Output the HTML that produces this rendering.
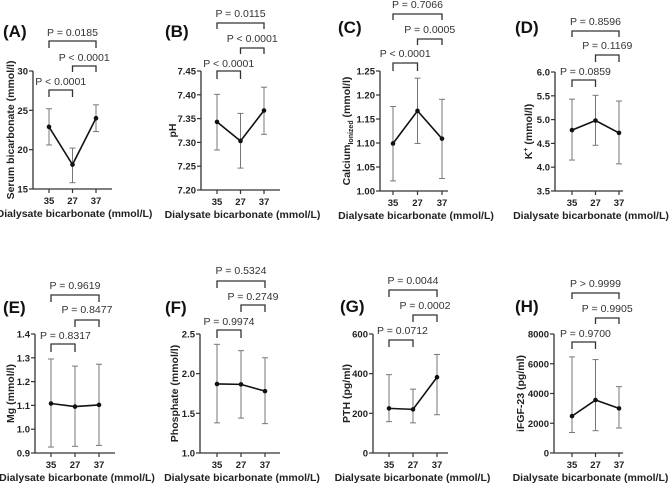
<!DOCTYPE html>
<html><head><meta charset="utf-8">
<style>
body{margin:0;background:#fff;}
svg{display:block;font-family:"Liberation Sans",Arial,sans-serif;}
.tk{font-size:9.5px;font-weight:bold;fill:#222;}
.pl{font-size:10.5px;fill:#333;}
.ttl{font-size:17px;font-weight:bold;fill:#111;}
.xl{font-size:10.5px;font-weight:bold;fill:#222;}
.yl{font-size:10.5px;font-weight:bold;fill:#222;}
</style></head>
<body>
<svg id="fig" width="669" height="487" viewBox="0 0 669 487" xmlns="http://www.w3.org/2000/svg"></svg>
<script>
const categories = ["35","27","37"];
// Panel A
const aMean = [22.9, 18.1, 24.0];
const aLow = [20.6, 15.8, 22.3];
const aHigh = [25.2, 20.2, 25.7];
const aTicks = [15, 20, 25, 30];
const aP = ["P = 0.0185","P < 0.0001","P < 0.0001"];
// Panel B
const bMean = [7.343, 7.303, 7.367];
const bLow = [7.284, 7.246, 7.317];
const bHigh = [7.401, 7.361, 7.416];
const bTicks = [7.20, 7.25, 7.30, 7.35, 7.40, 7.45];
const bP = ["P = 0.0115","P < 0.0001","P < 0.0001"];
// Panel C
const cMean = [1.099, 1.167, 1.109];
const cLow = [1.021, 1.099, 1.026];
const cHigh = [1.176, 1.235, 1.191];
const cTicks = [1.00, 1.05, 1.10, 1.15, 1.20, 1.25];
const cP = ["P = 0.7066","P = 0.0005","P < 0.0001"];
// Panel D
const dMean = [4.78, 4.98, 4.72];
const dLow = [4.15, 4.46, 4.07];
const dHigh = [5.43, 5.51, 5.39];
const dTicks = [3.5, 4.0, 4.5, 5.0, 5.5, 6.0];
const dP = ["P = 0.8596","P = 0.1169","P = 0.0859"];
// Panel E
const eMean = [1.108, 1.095, 1.102];
const eLow = [0.925, 0.928, 0.932];
const eHigh = [1.295, 1.265, 1.273];
const eTicks = [0.9, 1.0, 1.1, 1.2, 1.3, 1.4];
const eP = ["P = 0.9619","P = 0.8477","P = 0.8317"];
// Panel F
const fMean = [1.87, 1.865, 1.78];
const fLow = [1.38, 1.44, 1.37];
const fHigh = [2.37, 2.29, 2.20];
const fTicks = [1.0, 1.5, 2.0, 2.5];
const fP = ["P = 0.5324","P = 0.2749","P = 0.9974"];
// Panel G
const gMean = [225, 220, 382];
const gLow = [158, 152, 193];
const gHigh = [395, 322, 497];
const gTicks = [0, 200, 400, 600];
const gP = ["P = 0.0044","P = 0.0002","P = 0.0712"];
// Panel H
const hMean = [2480, 3560, 3000];
const hLow = [1380, 1500, 1680];
const hHigh = [6460, 6280, 4460];
const hTicks = [0, 2000, 4000, 6000, 8000];
const hP = ["P > 0.9999","P = 0.9905","P = 0.9700"];

const NS="http://www.w3.org/2000/svg";
const svg=document.getElementById('fig');
function mk(tag,attrs,parent,text){const e=document.createElementNS(NS,tag);for(const k in attrs)e.setAttribute(k,attrs[k]);if(text!==undefined)e.textContent=text;(parent||svg).appendChild(e);return e;}

const layouts=[
 {id:'a',label:'(A)',lx:3,ly:37,ax:33,x0:49,dx:23.5,yt:71,yb:189,xe:112,ylx:10,yl:'Serum bicarbonate (mmol/l)',dec:0,mean:aMean,low:aLow,high:aHigh,ticks:aTicks,p:aP,br:[[41,48,36],[66,72,61],[90,97,85]],p3x:null},
 {id:'b',label:'(B)',lx:165,ly:37,ax:201,x0:217,dx:23.5,yt:71,yb:190,xe:280,ylx:172,yl:'pH',dec:2,mean:bMean,low:bLow,high:bHigh,ticks:bTicks,p:bP,br:[[23,29,17],[48,54,42],[71,79,67]],p3x:null},
 {id:'c',label:'(C)',lx:338,ly:33,ax:380,x0:393,dx:24.5,yt:71,yb:191,xe:448,ylx:346,yl:'CAL',dec:2,mean:cMean,low:cLow,high:cHigh,ticks:cTicks,p:cP,br:[[14,20,8],[39,45,33],[63,71,57]],p3x:null},
 {id:'d',label:'(D)',lx:515,ly:33,ax:555,x0:572,dx:23.5,yt:72,yb:191,xe:623,ylx:528,yl:'K',dec:1,mean:dMean,low:dLow,high:dHigh,ticks:dTicks,p:dP,br:[[31,37,25],[55,62,49],[80,87,75]],p3x:560},
 {id:'e',label:'(E)',lx:3,ly:313,ax:35,x0:51,dx:24,yt:334,yb:453,xe:115,ylx:10,yl:'Mg (mmol/l)',dec:1,mean:eMean,low:eLow,high:eHigh,ticks:eTicks,p:eP,br:[[295,302,289],[320,327,313],[344,352,339]],p3x:40},
 {id:'f',label:'(F)',lx:165,ly:313,ax:200,x0:217,dx:24,yt:334,yb:453,xe:280,ylx:174,yl:'Phosphate (mmol/l)',dec:1,mean:fMean,low:fLow,high:fHigh,ticks:fTicks,p:fP,br:[[281,288,274],[305,312,300],[330,338,325]],p3x:null},
 {id:'g',label:'(G)',lx:340,ly:312,ax:373,x0:389,dx:24,yt:334,yb:453,xe:448,ylx:346,yl:'PTH (pg/ml)',dec:0,mean:gMean,low:gLow,high:gHigh,ticks:gTicks,p:gP,br:[[290,297,284],[315,322,309],[340,347,334]],p3x:377},
 {id:'h',label:'(H)',lx:515,ly:312,ax:554,x0:572,dx:23.5,yt:334,yb:453,xe:623,ylx:520,yl:'iFGF-23 (pg/ml)',dec:0,mean:hMean,low:hLow,high:hHigh,ticks:hTicks,p:hP,br:[[293,299,287],[318,324,312],[342,349,337]],p3x:560}
];

layouts.forEach(L=>{
 const g=mk('g',{});
 
 
 const tmin=L.ticks[0],tmax=L.ticks[L.ticks.length-1];
 const y=v=>L.yb-(v-tmin)/(tmax-tmin)*(L.yb-L.yt);
 const x=i=>L.x0+i*L.dx;
 const t=mk('text',{x:L.lx,y:L.ly,class:'ttl'},g,L.label);
 
 
 const ya=mk('line',{x1:L.ax,y1:L.yt,x2:L.ax,y2:L.yb,stroke:'#333','stroke-width':1.3},g);
 
 
 const xa=mk('line',{x1:L.ax,y1:L.yb,x2:L.xe,y2:L.yb,stroke:'#333','stroke-width':1.3},g);
 
 
 L.ticks.forEach(v=>{
  mk('line',{x1:L.ax-4,y1:y(v),x2:L.ax,y2:y(v),stroke:'#333','stroke-width':1.2},g);
  const tl=mk('text',{x:L.ax-5,y:y(v)+3.5,'text-anchor':'end',class:'tk'},g,v.toFixed(L.dec));
  
  
 });
 categories.forEach((c,i)=>{
  mk('line',{x1:x(i),y1:L.yb,x2:x(i),y2:L.yb+4,stroke:'#333','stroke-width':1.2},g);
  const tl=mk('text',{x:x(i),y:L.yb+15,'text-anchor':'middle',class:'tk'},g,c);
  
  
 });
 const xlab=mk('text',{x:(L.ax+L.xe)/2+2,y:L.yb+28,'text-anchor':'middle',class:'xl'},g,'Dialysate bicarbonate (mmol/L)');
 
 
 const yc=(L.yt+L.yb)/2;
 let ylab;
 if(L.yl==='CAL'){
  ylab=mk('text',{x:L.ylx,y:yc+4,'text-anchor':'middle',class:'yl',transform:`rotate(-90 ${L.ylx} ${yc})`},g);
  mk('tspan',{},ylab,'Calcium');
  mk('tspan',{'font-size':'7px',dy:'3'},ylab,'Ionized');
  mk('tspan',{dy:'-3'},ylab,' (mmol/l)');
 } else if(L.yl==='K'){
  ylab=mk('text',{x:L.ylx,y:yc+4,'text-anchor':'middle',class:'yl',transform:`rotate(-90 ${L.ylx} ${yc})`},g);
  mk('tspan',{},ylab,'K');
  mk('tspan',{'font-size':'7px',dy:'-4'},ylab,'+');
  mk('tspan',{dy:'4'},ylab,' (mmol/l)');
 } else {
  ylab=mk('text',{x:L.ylx,y:yc+4,'text-anchor':'middle',class:'yl',transform:`rotate(-90 ${L.ylx} ${yc})`},g,L.yl);
 }
 
 
 categories.forEach((c,i)=>{
  const eb=mk('g',{stroke:'#777','stroke-width':1},g);
  
  
  mk('line',{x1:x(i),y1:y(L.low[i]),x2:x(i),y2:y(L.high[i])},eb);
  mk('line',{x1:x(i)-3,y1:y(L.low[i]),x2:x(i)+3,y2:y(L.low[i])},eb);
  mk('line',{x1:x(i)-3,y1:y(L.high[i]),x2:x(i)+3,y2:y(L.high[i])},eb);
 });
 const pts=L.mean.map((v,i)=>x(i)+','+y(v)).join(' ');
 const ln=mk('polyline',{points:pts,fill:'none',stroke:'#111','stroke-width':1.6},g);
 
 
 L.mean.forEach((v,i)=>{
  const p=mk('circle',{cx:x(i),cy:y(v),r:2.3,fill:'#111'},g);
  
  
 });
 const pairs=[[0,2],[1,2],[0,1]];
 pairs.forEach((pr,k)=>{
  const [top,bot,ty]=L.br[k];
  const x1=x(pr[0]),x2=x(pr[1]);
  const b=mk('path',{d:`M${x1},${bot}V${top}H${x2}V${bot}`,fill:'none',stroke:'#333','stroke-width':1.3},g);
  
  
  let tx,anchor='middle';
  if(k===2 && L.p3x!==null){tx=L.p3x;anchor='start';}
  else tx=(x1+x2)/2;
  const pt=mk('text',{x:tx,y:ty,'text-anchor':anchor,class:'pl'},g,L.p[k]);
  
  
 });
});
</script>
</body></html>
